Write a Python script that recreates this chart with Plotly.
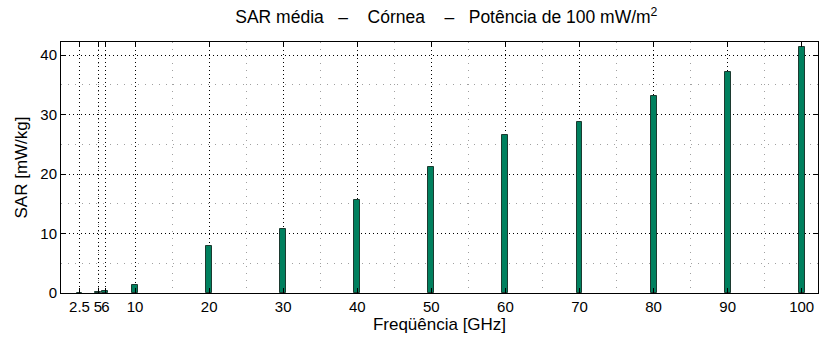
import plotly.graph_objects as go

freq = [2.5, 5, 6, 10, 20, 30, 40, 50, 60, 70, 80, 90, 100]
sar = [0.02, 0.12, 0.3, 1.34, 7.95, 10.7, 15.6, 21.2, 26.6, 28.8, 33.1, 37.2, 41.3]
xtick_vals = [2.5, 5, 6, 10, 20, 30, 40, 50, 60, 70, 80, 90, 100]
xtick_text = ["2.5", "5", "6", "10", "20", "30", "40", "50", "60", "70", "80", "90", "100"]
ytick_vals = [0, 10, 20, 30, 40]

font = "Liberation Sans, Arial, Helvetica, sans-serif"
nb = "\u00a0"

fig = go.Figure()
fig.add_trace(go.Bar(
    x=freq, y=sar, width=0.8,
    marker=dict(color="#00805E", line=dict(color="#1c3a30", width=1)),
))

title_text = ("SAR média" + nb * 3 + "–" + nb * 4 + "Córnea" + nb * 4 + "–" + nb * 3
              + "Potência de 100 mW/m<sup>2</sup>")

fig.update_layout(
    width=819, height=338,
    margin=dict(l=61, r=1, t=42, b=45, autoexpand=False),
    paper_bgcolor="white", plot_bgcolor="white",
    showlegend=False,
    font=dict(family=font, size=15, color="black"),
    title=dict(
        text=title_text,
        x=0.545, xanchor="center", y=0.95, yanchor="middle",
        font=dict(family=font, size=17.5, color="black"),
    ),
    bargap=0,
)

grid_major = "1px,3px"

fig.update_xaxes(
    range=[0, 102.2], automargin=False,
    tickmode="array", tickvals=xtick_vals, ticktext=xtick_text, tickangle=0,
    ticks="inside", ticklen=5, tickcolor="black",
    showline=True, linecolor="black", linewidth=1, mirror="allticks",
    showgrid=True, gridcolor="black", griddash=grid_major, gridwidth=1,
    minor=dict(tick0=5, dtick=10, showgrid=True, gridcolor="#a0a0a0", griddash="1px,6px", ticks=""),
    zeroline=False,
    title=dict(text="Freqüência [GHz]", standoff=3, font=dict(family=font, size=17)),
    tickfont=dict(family=font, size=15),
)
fig.update_yaxes(
    range=[0, 42.2], automargin=False,
    tickmode="array", tickvals=ytick_vals,
    ticks="inside", ticklen=5, tickcolor="black",
    showline=True, linecolor="black", linewidth=1, mirror="allticks",
    showgrid=True, gridcolor="black", griddash=grid_major, gridwidth=1,
    minor=dict(tick0=5, dtick=10, showgrid=True, gridcolor="#a0a0a0", griddash="1px,6px", ticks=""),
    zeroline=False,
    title=dict(text="SAR [mW/kg]", standoff=8, font=dict(family=font, size=17)),
    tickfont=dict(family=font, size=15),
)

fig.write_html("out.html", config={"displayModeBar": False},
               post_script="document.body.style.margin='0px';")
